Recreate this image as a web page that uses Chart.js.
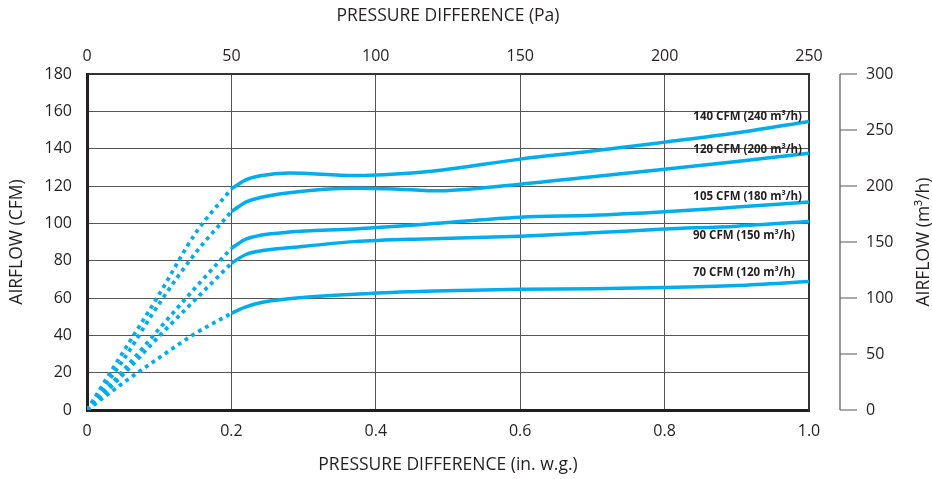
<!DOCTYPE html>
<html>
<head>
<meta charset="utf-8">
<script src="https://cdn.jsdelivr.net/npm/chart.js@4.4.1/dist/chart.umd.min.js"></script>
<style>
  html, body { margin: 0; padding: 0; background: #fff; }
  #wrap { width: 932px; height: 479px; }
</style>
</head>
<body>
<div id="wrap"><canvas id="fanChart"></canvas></div>
<script>
// pressure (in. w.g.) for the measured part and the dotted start
var pressureSolid = [0.2, 0.22, 0.24, 0.28, 0.37, 0.45, 0.48, 0.6, 0.7, 0.8, 0.9, 1.0];
var pressureDotted = [0, 0.05, 0.1, 0.15, 0.2];

var seriesNames = ["140 CFM (240 m³/h)", "120 CFM (200 m³/h)", "105 CFM (180 m³/h)", "90 CFM (150 m³/h)", "70 CFM (120 m³/h)"];

// airflow (CFM)
var flow140 = [118.5, 123.3, 125.5, 127, 125.6, 127, 128, 134.4, 138.7, 143.5, 148.5, 154.6];
var flow120 = [106.3, 111.4, 113.8, 116.4, 118.8, 118, 117.4, 121, 125, 129, 133.1, 137.6];
var flow105 = [86.7, 91.5, 93.6, 95.3, 97, 99, 99.9, 103.3, 104.3, 106.2, 108.7, 111.4];
var flow90 = [78.6, 83.3, 85.2, 86.9, 90.2, 91.5, 91.7, 93.1, 94.9, 96.9, 98.5, 101];
var flow70 = [51.8, 55.2, 57.5, 59.6, 62, 63.4, 63.8, 64.7, 65, 65.6, 66.7, 68.8];

var dotted140 = [0, 31, 62, 94.5, 118.5];
var dotted120 = [0, 26.8, 57, 84, 106.3];
var dotted105 = [0, 21, 43.5, 65.5, 86.7];
var dotted90 = [0, 19, 39.6, 59.2, 78.6];
var dotted70 = [0, 14.5, 28, 41, 51.8];

var bottomTicks = ["0", "0.2", "0.4", "0.6", "0.8", "1.0"];
var topTicks = ["0", "50", "100", "150", "200", "250"];
var leftTicks = [0, 20, 40, 60, 80, 100, 120, 140, 160, 180];
var rightTicks = [0, 50, 100, 150, 200, 250, 300];
var rightTitle = 'AIRFLOW (m³/h)';

var solidSets = [flow140, flow120, flow105, flow90, flow70];
var dottedSets = [dotted140, dotted120, dotted105, dotted90, dotted70];

// pixel nudge of each curve label from the curve end
var labelDy = [-5, -3, -5.5, 14, -8.5];
var labelDx = [-7, -7, -7, -14, -14];

var blue = '#00aeef';
var ink = '#231f20';

function pts(xs, ys) {
  return xs.map(function (x, i) { return { x: x, y: ys[i] }; });
}

var datasets = [];
solidSets.forEach(function (s, i) {
  datasets.push({
    label: seriesNames[i],
    data: pts(pressureSolid, s),
    borderColor: blue,
    borderWidth: 3.5,
    pointRadius: 0,
    cubicInterpolationMode: 'monotone',
    fill: false
  });
});
dottedSets.forEach(function (s, i) {
  datasets.push({
    label: seriesNames[i] + ' start',
    data: pts(pressureDotted, s),
    borderColor: blue,
    borderWidth: 3.8,
    borderDash: [3.8, 4.2],
    pointRadius: 0,
    cubicInterpolationMode: 'monotone',
    fill: false
  });
});

var curveLabels = {
  id: 'curveLabels',
  afterDatasetsDraw: function (chart) {
    var c = chart.ctx, xs = chart.scales.x, ys = chart.scales.y;
    c.save();
    c.font = 'bold 11.5px "Open Sans"';
    c.fillStyle = ink;
    c.textAlign = 'right';
    c.textBaseline = 'middle';
    solidSets.forEach(function (s, i) {
      var px = xs.getPixelForValue(1.0) + labelDx[i];
      var py = ys.getPixelForValue(s[s.length - 1]) + labelDy[i];
      c.fillText(seriesNames[i], px, py);
    });
    c.restore();
  }
};

// right axis sits away from the plot, drawn from the y2 scale
var rightAxis = {
  id: 'rightAxis',
  afterDraw: function (chart) {
    var c = chart.ctx, s = chart.scales.y2, a = chart.chartArea;
    var x0 = a.right + 31;
    c.save();
    c.strokeStyle = '#555';
    c.lineWidth = 1.2;
    c.beginPath();
    c.moveTo(x0, s.getPixelForValue(0));
    c.lineTo(x0, s.getPixelForValue(300));
    rightTicks.forEach(function (v) {
      var y = s.getPixelForValue(v);
      c.moveTo(x0, y);
      c.lineTo(x0 + 17, y);
    });
    c.stroke();
    // title reads bottom to top, like the left one
    c.translate(chart.width - 8, (a.top + a.bottom) / 2);
    c.rotate(-Math.PI / 2);
    c.font = '17.5px "Open Sans"';
    c.fillStyle = ink;
    c.textAlign = 'center';
    c.textBaseline = 'middle';
    c.fillText(rightTitle, 0, 0);
    c.restore();
  }
};

var tickFont = { family: 'Open Sans', size: 16 };
var titleFont = { family: 'Open Sans', size: 17.5 };

var ctx = document.getElementById('fanChart').getContext('2d');
var fanChart = new Chart(ctx, {
  type: 'line',
  data: { datasets: datasets },
  options: {
    responsive: true,
    maintainAspectRatio: false,
    animation: false,
    layout: { padding: 0 },
    plugins: { legend: { display: false }, tooltip: { enabled: false } },
    scales: {
      x: {
        type: 'linear', position: 'bottom', min: 0, max: 1,
        afterFit: function (s) { s.height = 69; },
        afterBuildTicks: function (s) { s.ticks = bottomTicks.map(function (t) { return { value: parseFloat(t) }; }); },
        ticks: { font: tickFont, color: ink, padding: 12, maxRotation: 0,
          callback: function (v, i) { return bottomTicks[i]; } },
        grid: { color: '#555', lineWidth: 1, drawTicks: false },
        border: { color: ink, width: 3 },
        title: { display: true, text: 'PRESSURE DIFFERENCE (in. w.g.)', font: titleFont, color: ink, padding: { bottom: 3 } }
      },
      x2: {
        type: 'linear', position: 'top', min: 0, max: 250,
        afterFit: function (s) { s.height = 74; },
        afterBuildTicks: function (s) { s.ticks = topTicks.map(function (t) { return { value: parseFloat(t) }; }); },
        ticks: { font: tickFont, color: ink, padding: 8, maxRotation: 0,
          callback: function (v, i) { return topTicks[i]; } },
        grid: { display: false, drawTicks: false },
        border: { color: '#333', width: 2 },
        title: { display: true, text: 'PRESSURE DIFFERENCE (Pa)', font: titleFont, color: ink, padding: { top: 6 } }
      },
      y: {
        type: 'linear', position: 'left', min: 0, max: 180,
        afterFit: function (s) { s.width = 87; },
        afterBuildTicks: function (s) { s.ticks = leftTicks.map(function (t) { return { value: t }; }); },
        ticks: { font: tickFont, color: ink, padding: 15 },
        grid: { color: '#555', lineWidth: 1, drawTicks: false },
        border: { color: ink, width: 3 },
        title: { display: true, text: 'AIRFLOW (CFM)', font: titleFont, color: ink, padding: { top: 7 } }
      },
      y2: {
        type: 'linear', position: 'right', min: 0, max: 300,
        afterFit: function (s) { s.width = 123; },
        afterBuildTicks: function (s) { s.ticks = rightTicks.map(function (t) { return { value: t }; }); },
        ticks: { font: tickFont, color: ink, padding: 57 },
        grid: { display: false, drawTicks: false },
        border: { color: '#333', width: 2 },
        title: { display: false }
      }
    }
  },
  plugins: [curveLabels, rightAxis]
});
</script>
</body>
</html>
